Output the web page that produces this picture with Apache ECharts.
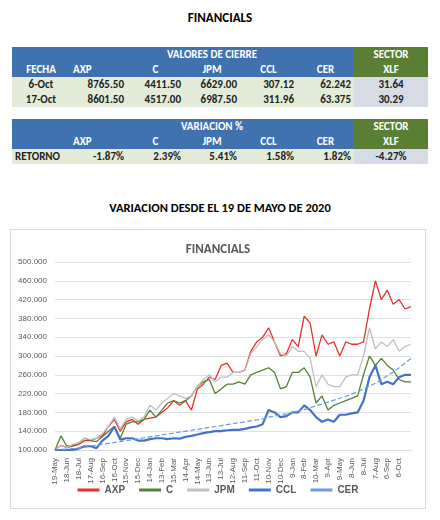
<!DOCTYPE html>
<html>
<head>
<meta charset="utf-8">
<script src="https://cdn.jsdelivr.net/npm/echarts@6/dist/echarts.min.js"></script>
<style>
body{margin:0;width:440px;height:520px;background:#fff;font-family:Carlito,"Liberation Sans",sans-serif;position:relative;overflow:hidden}
.h{position:absolute;left:0;width:440px;text-align:center;font-weight:bold;color:#000}
table{position:absolute;left:12px;width:416px;border-collapse:collapse;font-size:11px;font-weight:bold;table-layout:fixed}
td{height:15px;padding:0 3px;text-align:right;white-space:nowrap}
td.c{text-align:center}
.b{background:#3f72af;color:#fff}
.g{background:#5a7f34;color:#fff;text-align:center}
.l{background:#e3ecd8;color:#222}
.x{background:#d6dbe6;color:#222;text-align:center}
#chart{position:absolute;left:10px;top:229px;width:414px;height:278px;border:1px solid #d9d9d9}
</style>
</head>
<body>
<div class="h" style="top:10px;font-size:13px">FINANCIALS</div>
<table id="t1" style="top:47px"></table>
<table id="t2" style="top:119px"></table>
<div class="h" style="top:200px;font-size:12.5px">VARIACION DESDE EL 19 DE MAYO DE 2020</div>
<div id="chart"></div>
<script>
//tablas
var tickers=['AXP','C','JPM','CCL','CER'];
var fechas=['6-Oct','17-Oct'];
var cierre=[['8765.50','4411.50','6629.00','307.12','62.242'],['8601.50','4517.00','6987.50','311.96','63.375']];
var xlf=['31.64','30.29'];
var retorno=['-1.87%','2.39%','5.41%','1.58%','1.82%'];
var xlfRet='-4.27%';

var cols='<colgroup><col style="width:58px"><col style="width:57px"><col style="width:57px"><col style="width:56px"><col style="width:57px"><col style="width:57px"><col style="width:74px"></colgroup>';
function hdr(title,first){
    var h=cols+'<tr><td class="b"></td><td class="b c" colspan="5">'+title+'</td><td class="g">SECTOR</td></tr><tr><td class="b c">'+first+'</td>';
    var tk=tickers.map(function(t,i){return '<td class="b" style="text-align:'+(i==0?'left':'center')+'">'+t+'</td>';}).join('');
    return h+tk+'<td class="g">XLF</td></tr>';
}
var t1=hdr('VALORES DE CIERRE','FECHA');
fechas.forEach(function(f,i){
    t1+='<tr><td class="l c">'+f+'</td>'+cierre[i].map(function(v){return '<td class="l">'+v+'</td>';}).join('')+'<td class="x">'+xlf[i]+'</td></tr>';
});
document.getElementById('t1').innerHTML=t1;
var t2=hdr('VARIACION %','')+'<tr><td class="l" style="text-align:left">RETORNO</td>'+retorno.map(function(v){return '<td class="l">'+v+'</td>';}).join('')+'<td class="x">'+xlfRet+'</td></tr>';
document.getElementById('t2').innerHTML=t2;

//grafico
var labels=['19-May','18-Jun','18-Jul','17-Aug','16-Sep','16-Oct','15-Nov','15-Dec','14-Jan','13-Feb','15-Mar','14-Apr','14-May','13-Jun','13-Jul','12-Aug','11-Sep','11-Oct','10-Nov','10-Dec','9-Jan','8-Feb','10-Mar','9-Apr','9-May','8-Jun','8-Jul','7-Aug','6-Sep','6-Oct'];
var dates=[];
labels.forEach(function(l){dates.push(l);dates.push(l+' ');});
dates.push('');
var axp=[100,110,105,108,112,120,120,125,130,150,165,140,160,165,155,165,168,170,180,190,205,195,205,185,230,240,255,250,280,285,265,265,270,310,330,340,360,330,300,305,335,320,385,370,300,345,325,330,300,330,325,325,330,400,460,420,440,410,420,400,405];
var c=[100,130,108,110,115,125,120,118,128,140,150,125,155,160,160,165,185,170,185,200,205,200,205,215,235,245,250,220,230,240,240,245,240,260,265,270,275,265,230,235,265,265,275,255,200,215,185,195,200,205,210,215,260,300,280,295,280,270,250,245,245];
var jpm=[100,110,105,112,115,125,122,125,135,150,170,145,165,170,162,170,195,185,200,210,220,215,210,215,235,250,260,245,255,255,265,265,270,305,320,335,345,330,305,300,320,310,310,295,235,260,240,235,235,255,260,260,300,360,315,330,320,335,310,320,325];
var ccl=[100,100,100,100,103,108,108,104,120,130,150,122,125,125,120,120,123,125,125,123,125,124,128,130,133,136,138,140,140,142,143,143,145,148,150,155,185,180,170,172,180,180,195,185,170,160,165,160,175,175,178,180,205,255,280,240,245,240,255,260,260];
var cer=[100,101,102,103,104,106,108,110,112,114,116,118,120,122,124,126,128,130,132,134,136,138,140,142,144,146,148,150,152,154,156,158,160,162,164,166,170,172,175,177,180,183,186,190,194,198,202,206,210,214,219,224,230,236,242,250,258,266,275,285,295];

var chart=echarts.init(document.getElementById('chart'));
function line(name,data,color,width,type){
    return {name:name,type:'line',data:data,symbol:'none',smooth:false,
        lineStyle:{color:color,width:width,type:type||'solid'},itemStyle:{color:color}};
}
chart.setOption({
    animation:false,
    title:{text:'FINANCIALS',left:'center',top:8,textStyle:{fontSize:13,fontWeight:'bold',color:'#595959',fontFamily:'Carlito, Liberation Sans'}},
    grid:{left:44,right:14,top:32,bottom:58},
    legend:{bottom:8,itemWidth:22,itemHeight:3,itemGap:14,
        textStyle:{fontSize:10,fontWeight:'bold',color:'#595959'},
        data:['AXP','C','JPM','CCL','CER'].map(function(n){return {name:n,icon:'rect'};})},
    xAxis:{type:'category',data:dates,boundaryGap:false,
        axisLine:{lineStyle:{color:'#d9d9d9'}},axisTick:{show:false},
        axisLabel:{interval:1,rotate:90,fontSize:8,color:'#595959'}},
    yAxis:{type:'value',min:100,max:500,interval:40,
        axisLabel:{fontSize:8,color:'#595959',formatter:function(v){return v+'.000';}},
        splitLine:{lineStyle:{color:'#e0e0e0'}}},
    series:[
        line('AXP',axp,'#e8312a',1.3),
        line('C',c,'#548235',1.3),
        line('JPM',jpm,'#bfbfbf',1.3),
        line('CCL',ccl,'#4472c4',2.2),
        line('CER',cer,'#6a9ee0',1.2,'dashed')
    ]
});
</script>
</body>
</html>
